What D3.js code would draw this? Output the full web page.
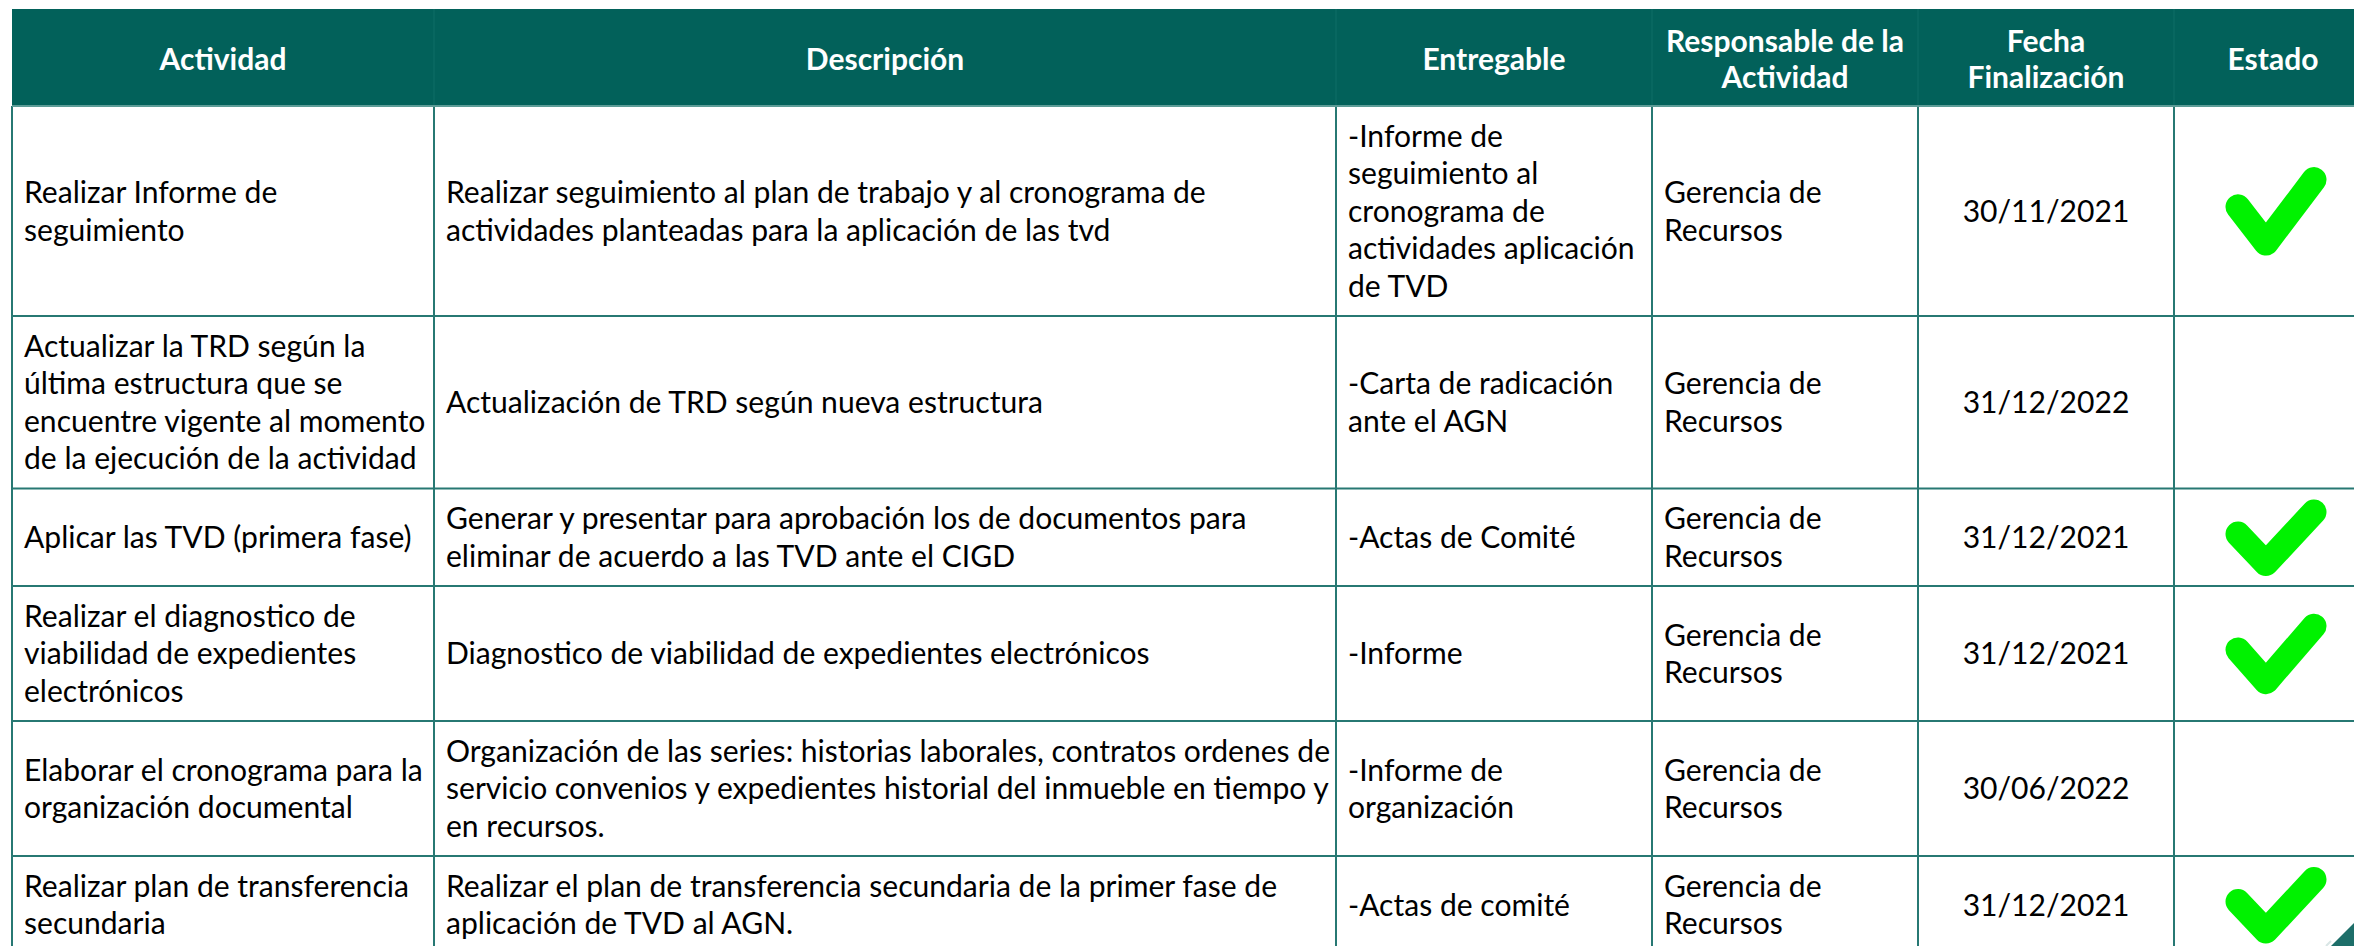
<!DOCTYPE html>
<html>
<head>
<meta charset="utf-8">
<script src="https://cdn.jsdelivr.net/npm/d3@7"></script>
<style>
  html, body { margin: 0; padding: 0; background: #ffffff; }
  svg { display: block; }
</style>
</head>
<body>
<script>
// ---------------- DATA ----------------
const headers = ["Actividad", "Descripción", "Entregable", "Responsable de la\nActividad", "Fecha\nFinalización", "Estado"];

const actividades = [
  "Realizar Informe de\nseguimiento",
  "Actualizar la TRD según la\núltima estructura que se\nencuentre vigente al momento\nde la ejecución de la actividad",
  "Aplicar las TVD (primera fase)",
  "Realizar el diagnostico de\nviabilidad de expedientes\nelectrónicos",
  "Elaborar el cronograma para la\norganización documental",
  "Realizar plan de transferencia\nsecundaria"
];

const descripciones = [
  "Realizar seguimiento al plan de trabajo y al cronograma de\nactividades planteadas para la aplicación de las tvd",
  "Actualización de TRD según nueva estructura",
  "Generar y presentar para aprobación los de documentos para\neliminar de acuerdo a las TVD ante el CIGD",
  "Diagnostico de viabilidad de expedientes electrónicos",
  "Organización de las series: historias laborales, contratos ordenes de\nservicio convenios y expedientes historial del inmueble en tiempo y\nen recursos.",
  "Realizar el plan de transferencia secundaria de la primer fase de\naplicación de TVD al AGN."
];

const entregables = [
  "-Informe de\nseguimiento al\ncronograma de\nactividades aplicación\nde TVD",
  "-Carta de radicación\nante el AGN",
  "-Actas de Comité",
  "-Informe",
  "-Informe de\norganización",
  "-Actas de comité"
];

const responsables = [
  "Gerencia de\nRecursos",
  "Gerencia de\nRecursos",
  "Gerencia de\nRecursos",
  "Gerencia de\nRecursos",
  "Gerencia de\nRecursos",
  "Gerencia de\nRecursos"
];

const fechas = ["30/11/2021", "31/12/2022", "31/12/2021", "31/12/2021", "30/06/2022", "31/12/2021"];

const estados = [true, false, true, true, false, true];

// ---------------- LAYOUT / STYLE ----------------
const W = 2354, H = 946;
const colEdges = [12, 434, 1336, 1652, 1918, 2174, 2372];
const colAlign = ["left", "left", "left", "left", "center", "center"];
const headerTop = 9, headerBottom = 106;
const lineH = 37.5, rowPad = 22.5, headerLineH = 36;
const padX = 12;
const HEADER_BG = "#02615a";
const GRID = "#277873";
const CHECK = "#00f200";
const FONT = "Lato, 'Open Sans', sans-serif";

const svg = d3.select("body").append("svg")
  .attr("width", W).attr("height", H)
  .style("background", "#fff");

// font fitting helper (match reference text widths)
function fitSize(sample, target, weight) {
  const t = svg.append("text").attr("font-family", FONT).attr("font-size", 100)
    .attr("font-weight", weight).text(sample);
  const w = t.node().getComputedTextLength();
  t.remove();
  return 100 * target / w;
}
const bodySize = fitSize("Realizar seguimiento al plan de trabajo y al cronograma de", 760, 400);
const headSize = fitSize("Responsable de la", 238, 700);

// table rows
const rows = actividades.map((a, i) => ({
  cells: [a, descripciones[i], entregables[i], responsables[i], fechas[i]],
  done: estados[i]
}));
rows.forEach(r => { r.n = d3.max(r.cells, c => c.split("\n").length); });

let y0 = headerBottom;
rows.forEach(r => { r.top = y0; r.h = r.n * lineH + rowPad; y0 += r.h; r.bottom = y0; });

const x = d3.scaleOrdinal().domain(d3.range(6)).range(colEdges.slice(0, 6));
const colW = i => colEdges[i + 1] - colEdges[i];

// header background
svg.append("rect").attr("x", colEdges[0]).attr("y", headerTop)
  .attr("width", colEdges[6] - colEdges[0]).attr("height", headerBottom - headerTop)
  .attr("fill", HEADER_BG);

// header subtle dividers
svg.append("g").selectAll("line").data(colEdges.slice(1, 6)).join("line")
  .attr("x1", d => d).attr("x2", d => d).attr("y1", headerTop).attr("y2", headerBottom)
  .attr("stroke", "#0b6a63").attr("stroke-width", 1.5);

// header text
const hg = svg.append("g").attr("font-family", FONT).attr("font-weight", 700)
  .attr("font-size", headSize).attr("fill", "#ffffff").attr("text-anchor", "middle");
headers.forEach((h, i) => {
  const lines = h.split("\n");
  const cx = x(i) + colW(i) / 2;
  const cy = (headerTop + headerBottom) / 2 + 2;
  lines.forEach((ln, k) => {
    hg.append("text").attr("x", cx)
      .attr("y", cy + (k - (lines.length - 1) / 2) * headerLineH)
      .attr("dy", "0.36em").text(ln);
  });
});

// grid lines
const grid = svg.append("g").attr("stroke", GRID).attr("stroke-width", 2);
grid.selectAll("line.h").data(rows).join("line").attr("class", "h")
  .attr("x1", colEdges[0]).attr("x2", colEdges[6])
  .attr("y1", d => d.bottom).attr("y2", d => d.bottom);
svg.append("line").attr("x1", colEdges[0]).attr("x2", colEdges[6])
  .attr("y1", headerBottom).attr("y2", headerBottom)
  .attr("stroke", "#5c9c97").attr("stroke-width", 2);
grid.selectAll("line.v").data(colEdges.slice(0, 6)).join("line").attr("class", "v")
  .attr("x1", d => d).attr("x2", d => d)
  .attr("y1", headerBottom).attr("y2", H + 20);

// body text
const bg = svg.append("g").attr("font-family", FONT).attr("font-weight", 400)
  .attr("font-size", bodySize).attr("fill", "#000000");
rows.forEach(r => {
  const cy = r.top + r.h / 2;
  r.cells.forEach((c, i) => {
    const lines = c.split("\n");
    const center = colAlign[i] === "center";
    const tx = center ? x(i) + colW(i) / 2 : x(i) + padX;
    lines.forEach((ln, k) => {
      bg.append("text").attr("x", tx)
        .attr("text-anchor", center ? "middle" : "start")
        .attr("y", cy + (k - (lines.length - 1) / 2) * lineH)
        .attr("dy", "0.36em").text(ln);
    });
  });
});

// check marks
const ck = svg.append("g");
rows.forEach(r => {
  if (!r.done) return;
  const cx = x(5) + colW(5) / 2 + 3;
  const cy = r.top + r.h / 2 + 1;
  const hh = 68 + r.h * 0.11;
  const sy = (hh - 25) / 51;
  const pts = [[-38, -4], [-10, 24], [38, -25]].map(p => [cx + p[0], cy + p[1] * sy]);
  ck.append("path").attr("d", d3.line()(pts))
    .attr("fill", "none").attr("stroke", CHECK).attr("stroke-width", 25)
    .attr("stroke-linecap", "round").attr("stroke-linejoin", "round");
});

// corner decoration (slide ornament)
svg.append("path").attr("d", "M2331,946 L2354,923 L2354,946 Z").attr("fill", "#1d6e69");
svg.append("path").attr("d", "M2326,946 L2331,941").attr("stroke", "#d9e6e5").attr("stroke-width", 2);
</script>
</body>
</html>
